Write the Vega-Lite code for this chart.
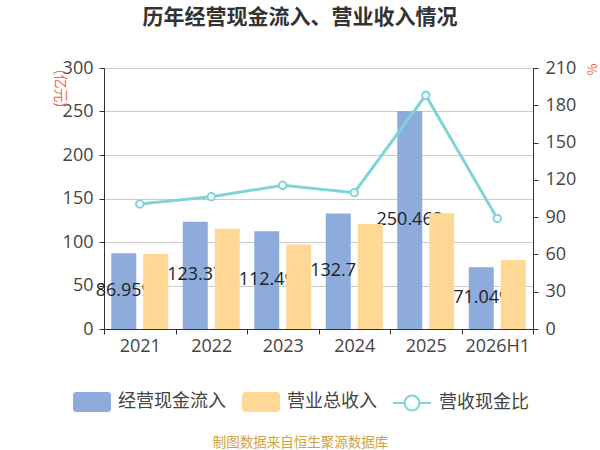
{
  "$schema": "https://vega.github.io/schema/vega-lite/v6.json",
  "width": 429,
  "height": 261,
  "autosize": {"type": "none"},
  "padding": {"left": 104, "top": 68, "right": 67, "bottom": 121},
  "background": "white",
  "title": {"text": "历年经营现金流入、营业收入情况", "anchor": "middle", "frame": "group", "dx": -18.5, "offset": 31, "fontSize": 21, "font": "Noto Sans CJK SC", "fontWeight": "bold", "color": "#333333"},
  "config": {"view": {"stroke": null}, "font": "Noto Sans CJK SC"},
  "data": {"values": [
    {"year": "2021", "flow": 86.959, "revenue": 86.2, "ratio": 100.6},
    {"year": "2022", "flow": 123.37, "revenue": 115.3, "ratio": 106.4},
    {"year": "2023", "flow": 112.49, "revenue": 97.0, "ratio": 115.6},
    {"year": "2024", "flow": 132.71, "revenue": 120.7, "ratio": 109.7},
    {"year": "2025", "flow": 250.462, "revenue": 133.0, "ratio": 188.0},
    {"year": "2026H1", "flow": 71.049, "revenue": 79.3, "ratio": 89.0}
  ]},
  "encoding": {
    "x": {"field": "year", "type": "nominal", "sort": null,
      "scale": {"paddingInner": 0, "paddingOuter": 0},
      "axis": {"labelAngle": 0, "labelFontSize": 18, "labelFont": "Open Sans", "labelColor": "#444444", "labelPadding": 3,
        "tickBand": "extent", "tickSize": 5, "tickColor": "#333333", "domainColor": "#333333", "grid": false,
        "title": "制图数据来自恒生聚源数据库", "titleFont": "Noto Sans CJK SC", "titleFontSize": 13.5, "titleFontWeight": "normal",
        "titleColor": "#D4A040", "titleX": 196, "titleY": 113, "titleAlign": "center", "titleBaseline": "middle"}}
  },
  "layer": [
    {
      "layer": [
        {
          "mark": {"type": "bar"},
          "encoding": {
            "xOffset": {"datum": "经营现金流入", "scale": {"domain": ["经营现金流入", "营业总收入"], "paddingInner": 0.219, "paddingOuter": 0.227}},
            "y": {"field": "flow", "type": "quantitative", "title": "(亿元)",
              "scale": {"domain": [0, 300], "nice": false},
              "axis": {"values": [0, 50, 100, 150, 200, 250, 300], "labelOverlap": false, "grid": true, "gridColor": "#cccccc", "gridWidth": 1.2,
                "domainColor": "#333333", "tickColor": "#333333", "tickSize": 5, "labelFontSize": 18, "labelFont": "Open Sans",
                "labelColor": "#444444", "labelPadding": 6, "titleAngle": 90, "titleX": -45, "titleY": 20,
                "titleAlign": "center", "titleBaseline": "middle", "titleFontSize": 14, "titleFontWeight": "normal", "titleColor": "#F06040"}},
            "color": {"datum": "经营现金流入", "scale": {"domain": ["经营现金流入", "营业总收入"], "range": ["#8DACDB", "#FFD896"]},
              "legend": {"orient": "none", "legendX": -32, "legendY": 314, "direction": "horizontal", "title": null,
                "symbolType": "M-0.8,-0.5H0.8A0.15,0.15 0 0 1 0.95,-0.35V0.35A0.15,0.15 0 0 1 0.8,0.5H-0.8A0.15,0.15 0 0 1 -0.95,0.35V-0.35A0.15,0.15 0 0 1 -0.8,-0.5Z",
                "symbolSize": 1600, "symbolStrokeWidth": 0, "symbolOpacity": 1, "labelFontSize": 18, "labelFont": "Noto Sans CJK SC",
                "labelColor": "#444444", "labelOffset": 6, "columnPadding": 15, "padding": 0, "labelLimit": 0}}
          }
        },
        {
          "transform": [{"calculate": "datum.flow / 2", "as": "mid"}],
          "mark": {"type": "text", "fontSize": 18, "font": "Open Sans", "color": "#222222", "baseline": "middle", "align": "center"},
          "encoding": {
            "xOffset": {"datum": "经营现金流入"},
            "y": {"field": "mid", "type": "quantitative", "title": "(亿元)", "scale": {"domain": [0, 300], "nice": false}},
            "text": {"field": "flow", "type": "quantitative", "format": ".6~g"}
          }
        },
        {
          "mark": {"type": "bar"},
          "encoding": {
            "xOffset": {"datum": "营业总收入"},
            "y": {"field": "revenue", "type": "quantitative", "title": "(亿元)", "scale": {"domain": [0, 300], "nice": false}},
            "color": {"datum": "营业总收入"}
          }
        }
      ]
    },
    {
      "layer": [
        {
          "mark": {"type": "line", "strokeWidth": 3},
          "encoding": {
            "y": {"field": "ratio", "type": "quantitative", "title": "%",
              "scale": {"domain": [0, 210], "nice": false},
              "axis": {"orient": "right", "values": [0, 30, 60, 90, 120, 150, 180, 210], "labelOverlap": false, "grid": false,
                "domainColor": "#333333", "tickColor": "#333333", "tickSize": 5, "labelFontSize": 18, "labelFont": "Open Sans",
                "labelColor": "#444444", "labelPadding": 7, "titleAngle": 90, "titleX": 57, "titleY": 1,
                "titleAlign": "center", "titleBaseline": "middle", "titleFontSize": 13, "titleFontWeight": "normal", "titleColor": "#F06040"}},
            "stroke": {"datum": "营收现金比", "scale": {"domain": ["营收现金比"], "range": ["#80D4D6"]},
              "legend": {"orient": "none", "legendX": 287, "legendY": 314, "title": null,
                "symbolType": "M-0.95,0H-0.37M0.37,0H0.95M-0.37,0A0.37,0.37 0 1 1 0.37,0A0.37,0.37 0 1 1 -0.37,0Z",
                "symbolSize": 1600, "symbolFillColor": "white", "symbolStrokeWidth": 2, "symbolOpacity": 1,
                "labelFontSize": 18, "labelFont": "Noto Sans CJK SC", "labelColor": "#444444", "labelOffset": 6, "padding": 0, "labelLimit": 0}}
          }
        },
        {
          "mark": {"type": "point", "filled": true, "fill": "white", "strokeWidth": 2, "size": 55, "opacity": 1},
          "encoding": {
            "y": {"field": "ratio", "type": "quantitative", "title": "%", "scale": {"domain": [0, 210], "nice": false},
              "axis": {"orient": "right", "values": [0, 30, 60, 90, 120, 150, 180, 210], "labelOverlap": false, "grid": false,
                "domainColor": "#333333", "tickColor": "#333333", "tickSize": 5, "labelFontSize": 18, "labelFont": "Open Sans",
                "labelColor": "#444444", "labelPadding": 7, "titleAngle": 90, "titleX": 57, "titleY": 1,
                "titleAlign": "center", "titleBaseline": "middle", "titleFontSize": 13, "titleFontWeight": "normal", "titleColor": "#F06040"}},
            "stroke": {"datum": "营收现金比"}
          }
        }
      ]
    }
  ],
  "resolve": {"scale": {"y": "independent"}}
}
